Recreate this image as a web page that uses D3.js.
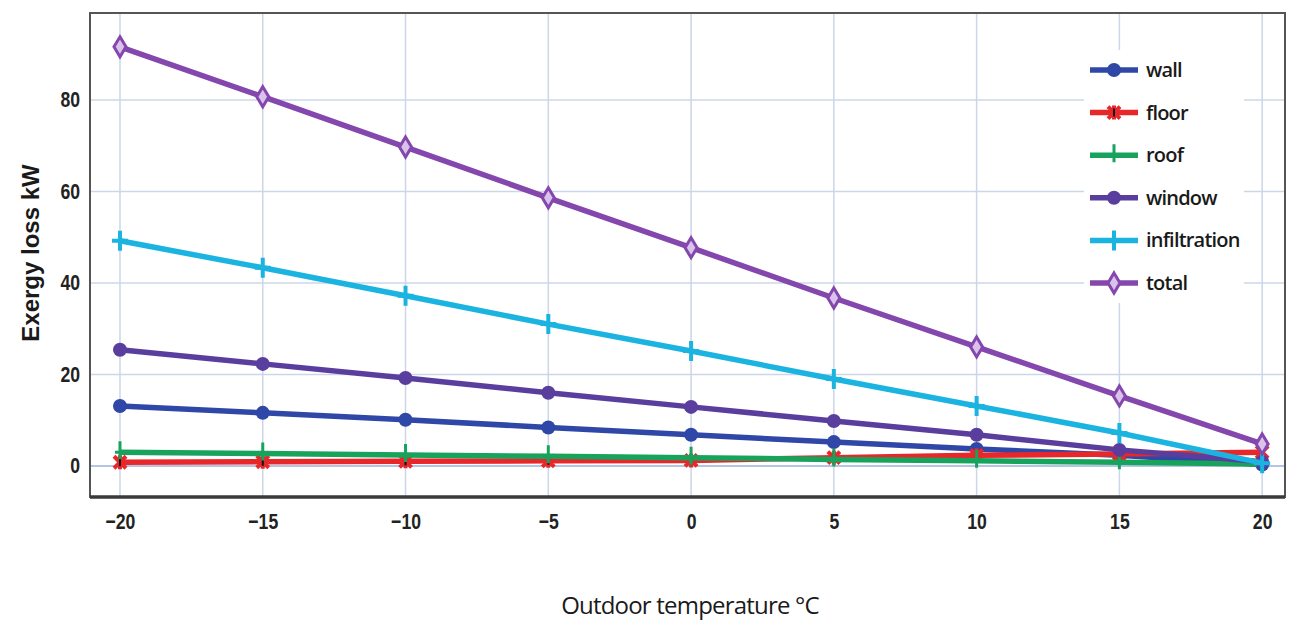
<!DOCTYPE html>
<html>
<head>
<meta charset="utf-8">
<script src="https://cdn.jsdelivr.net/npm/d3@7"></script>
<style>
  html, body { margin: 0; padding: 0; background: #fff; }
  svg { display: block; }
</style>
</head>
<body>
<svg id="chart" width="1289" height="621"></svg>
<script>
// Outdoor temperature (°C) on the x axis
const temperatures = [-20, -15, -10, -5, 0, 5, 10, 15, 20];

// Exergy loss per building element, kW
const wall = [13.1, 11.6, 10.1, 8.4, 6.8, 5.2, 3.7, 2.3, 0.3];
const floor = [0.8, 0.9, 1.0, 1.1, 1.2, 1.8, 2.3, 2.6, 3.0];
const roof = [3.0, 2.7, 2.4, 2.1, 1.8, 1.4, 1.1, 0.8, 0.4];
const windowLoss = [25.4, 22.3, 19.2, 16.0, 12.9, 9.8, 6.8, 3.5, 0.9];
const infiltration = [49.2, 43.3, 37.2, 31.0, 25.1, 19.0, 13.1, 7.2, 0.6];
const total = [91.6, 80.7, 69.7, 58.6, 47.7, 36.7, 26.0, 15.3, 4.8];

const seriesNames = ["wall", "floor", "roof", "window", "infiltration", "total"];
const xTicks = [-20, -15, -10, -5, 0, 5, 10, 15, 20];
const yTicks = [0, 20, 40, 60, 80];

const series = [
  { name: seriesNames[0], values: wall,         color: "#2f47a6", marker: "dot" },
  { name: seriesNames[1], values: floor,        color: "#e8272b", marker: "star" },
  { name: seriesNames[2], values: roof,         color: "#17a35c", marker: "tick" },
  { name: seriesNames[3], values: windowLoss,   color: "#5a3e9e", marker: "dot" },
  { name: seriesNames[4], values: infiltration, color: "#1bb4e1", marker: "plus" },
  { name: seriesNames[5], values: total,        color: "#8447ad", marker: "diamond" }
];

const svg = d3.select("#chart");
const box = { left: 90, right: 1285, top: 13, bottom: 497 };

const x = d3.scaleLinear().domain([-21.05, 20.8]).range([box.left, box.right]);
const y = d3.scaleLinear().domain([-6.8, 99]).range([box.bottom, box.top]);

// grid
const grid = svg.append("g");
grid.selectAll("line.v").data(xTicks).join("line")
  .attr("x1", d => x(d)).attr("x2", d => x(d))
  .attr("y1", box.top).attr("y2", box.bottom)
  .attr("stroke", "#ccd6e8").attr("stroke-width", 1.5);
grid.selectAll("line.h").data(yTicks).join("line")
  .attr("x1", box.left).attr("x2", box.right)
  .attr("y1", d => y(d)).attr("y2", d => y(d))
  .attr("stroke", d => d === 0 ? "#b3c4e4" : "#ccd6e8").attr("stroke-width", d => d === 0 ? 2 : 1.5);

// frame
svg.append("rect")
  .attr("x", box.left).attr("y", box.top)
  .attr("width", box.right - box.left).attr("height", box.bottom - box.top)
  .attr("fill", "none").attr("stroke", "#555").attr("stroke-width", 2);
svg.append("line")
  .attr("x1", box.left).attr("x2", box.right)
  .attr("y1", box.bottom).attr("y2", box.bottom)
  .attr("stroke", "#3a3a3a").attr("stroke-width", 3.5);

// axes (labels only, frame and grid drawn above)
const tickFont = "'Liberation Sans', Arial, sans-serif";
const fmt = d => d < 0 ? "\u2212" + Math.abs(d) : String(d);

const xAxis = svg.append("g").attr("transform", `translate(0,${box.bottom})`)
  .call(d3.axisBottom(x).tickValues(xTicks).tickFormat(fmt).tickSize(0).tickPadding(16));
const yAxis = svg.append("g").attr("transform", `translate(${box.left},0)`)
  .call(d3.axisLeft(y).tickValues(yTicks).tickSize(0).tickPadding(10));
[xAxis, yAxis].forEach(a => {
  a.select(".domain").remove();
  a.selectAll("text")
    .attr("font-family", tickFont).attr("font-size", 22).attr("font-weight", "bold")
    .attr("fill", "#222")
    .each(function () {
      // narrow the digits horizontally
      const w = this.getComputedTextLength();
      d3.select(this).attr("textLength", w * 0.8).attr("lengthAdjust", "spacingAndGlyphs");
    });
});

// axis titles
svg.append("text")
  .attr("x", 690).attr("y", 614).attr("text-anchor", "middle")
  .attr("font-family", "'Open Sans', 'Noto Sans', sans-serif").attr("font-size", 24)
  .attr("letter-spacing", -0.8)
  .attr("fill", "#1a1a1a").text("Outdoor temperature °C");
svg.append("text")
  .attr("transform", "translate(39,253) rotate(-90)").attr("text-anchor", "middle")
  .attr("font-family", "'Liberation Sans', Arial, sans-serif").attr("font-size", 24)
  .attr("font-weight", "bold").attr("fill", "#1a1a1a").text("Exergy loss kW");

// markers
function drawMarker(g, kind, color) {
  if (kind === "dot") {
    g.append("circle").attr("r", 7).attr("fill", color);
  } else if (kind === "star") {
    g.append("path").attr("d", "M-6,-6L6,6M-6,6L6,-6M0,-7L0,7")
      .attr("stroke", color).attr("stroke-width", 4);
    g.append("path").attr("d", "M0,-4L0,4").attr("stroke", "#111").attr("stroke-width", 2);
  } else if (kind === "tick") {
    g.append("path").attr("d", "M0,-11L0,7M-5,0L5,0").attr("stroke", color).attr("stroke-width", 3);
  } else if (kind === "plus") {
    g.append("path").attr("d", "M0,-10L0,10M-8,0L8,0").attr("stroke", color).attr("stroke-width", 4);
  } else if (kind === "diamond") {
    g.append("path").attr("d", "M0,-10L6,0L0,10L-6,0Z")
      .attr("fill", "#d9c3ea").attr("stroke", color).attr("stroke-width", 3);
  }
}

const line = d3.line().x((d, i) => x(temperatures[i])).y(d => y(d));
series.forEach(s => {
  const g = svg.append("g");
  g.append("path").datum(s.values).attr("d", line)
    .attr("fill", "none").attr("stroke", s.color).attr("stroke-width", 5.5)
    .attr("stroke-linejoin", "round");
  s.values.forEach((v, i) => {
    drawMarker(g.append("g").attr("transform", `translate(${x(temperatures[i])},${y(v)})`), s.marker, s.color);
  });
});

// legend
const legend = svg.append("g").attr("transform", "translate(1090,70)");
legend.append("rect").attr("x", -6).attr("y", -20)
  .attr("width", 160).attr("height", 5 * 42.6 + 40).attr("fill", "#fff");
series.forEach((s, i) => {
  const row = legend.append("g").attr("transform", `translate(0,${i * 42.6})`);
  row.append("line").attr("x1", 0).attr("x2", 48).attr("stroke", s.color).attr("stroke-width", 5.5);
  drawMarker(row.append("g").attr("transform", "translate(24,0)"), s.marker, s.color);
  row.append("text").attr("x", 56).attr("y", 7)
    .attr("font-family", "'Open Sans', 'Noto Sans', sans-serif").attr("font-size", 20)
    .attr("font-weight", 600).attr("letter-spacing", -0.8).attr("fill", "#1a1a1a").text(s.name);
});
</script>
</body>
</html>
